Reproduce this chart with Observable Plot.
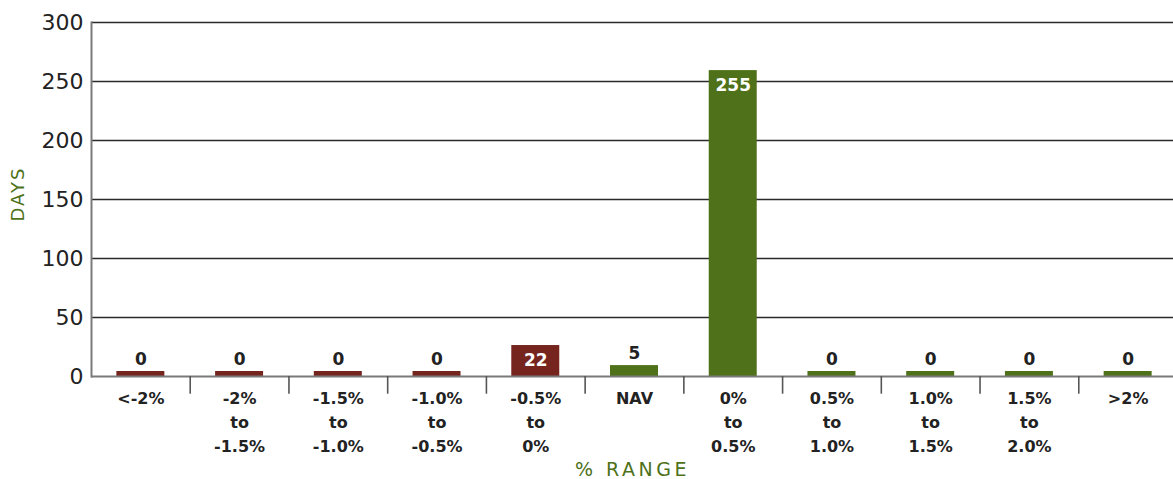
<!DOCTYPE html>
<html>
<head>
<meta charset="utf-8">
<script src="https://cdn.jsdelivr.net/npm/d3@7"></script>
<script src="https://cdn.jsdelivr.net/npm/@observablehq/plot@0.6"></script>
<style>
  html, body { margin: 0; padding: 0; background: #fff; }
  #chart svg { display: block; }
</style>
</head>
<body>
<div id="chart"></div>
<script>
const categories = ["<-2%", "-2% to -1.5%", "-1.5% to -1.0%", "-1.0% to -0.5%", "-0.5% to 0%", "NAV", "0% to 0.5%", "0.5% to 1.0%", "1.0% to 1.5%", "1.5% to 2.0%", ">2%"];
const tickLabels = ["<-2%", "-2%\nto\n-1.5%", "-1.5%\nto\n-1.0%", "-1.0%\nto\n-0.5%", "-0.5%\nto\n0%", "NAV", "0%\nto\n0.5%", "0.5%\nto\n1.0%", "1.0%\nto\n1.5%", "1.5%\nto\n2.0%", ">2%"];
const days = [0, 0, 0, 0, 22, 5, 255, 0, 0, 0, 0];
const groups = ["below", "below", "below", "below", "below", "nav", "above", "above", "above", "above", "above"];
const yTicks = [0, 50, 100, 150, 200, 250, 300];

const data = categories.map((c, i) => ({cat: c, label: tickLabels[i], value: days[i], group: groups[i]}));

const RED = "#76241e", GREEN = "#4e7119";
const font = "'DejaVu Sans', sans-serif";
const W = 1173, H = 479;
const xRange = [91, 1177];
const step = (xRange[1] - xRange[0]) / categories.length;

const chart = Plot.plot({
  width: W,
  height: H,
  marginLeft: 91,
  marginRight: 0,
  marginTop: 22,
  marginBottom: 103,
  style: {fontFamily: font, background: "#fff", overflow: "visible"},
  x: {domain: categories, range: xRange, paddingInner: 0.514, paddingOuter: 0.257, round: false, axis: null},
  y: {domain: [0, 300], axis: null},
  color: {domain: ["below", "nav", "above"], range: [RED, GREEN, GREEN]},
  marks: [
    Plot.ruleY(yTicks.slice(1), {stroke: "#2a2a2a", strokeWidth: 1.4}),
    Plot.axisY({ticks: yTicks, tickSize: 0, tickPadding: 8, fontSize: 22, fill: "#222", label: null}),
    Plot.barY(data, {x: "cat", y: "value", fill: "group", insetTop: -5}),
    Plot.frame({anchor: "left", stroke: "#7a7a7a", strokeWidth: 2}),
    Plot.ruleY([0], {stroke: "#7a7a7a", strokeWidth: 2}),
    Plot.ruleX(categories.slice(1), {x: d => d, y1: 0, y2: -15, dx: -step / 2, stroke: "#555", strokeWidth: 1.6}),
    Plot.text(data, {x: "cat", y: 0, text: "label", lineAnchor: "top", dy: 10, lineHeight: 1.5, fontSize: 16, fontWeight: "bold", fill: "#222"}),
    Plot.text(data.filter(d => d.value < 10), {x: "cat", y: "value", text: d => String(d.value), dy: -17, fontSize: 17, fontWeight: "bold", fill: "#222"}),
    Plot.text(data.filter(d => d.value >= 10), {x: "cat", y: "value", text: d => String(d.value), dy: 10, fontSize: 17, fontWeight: "bold", fill: "#fff"}),
    Plot.text(["DAYS"], {frameAnchor: "left", text: d => d, rotate: -90, dx: -73, dy: 22, fontSize: 18, fill: GREEN, className: "spaced-y"}),
    Plot.text(["% RANGE"], {frameAnchor: "bottom", text: d => d, dy: 99, fontSize: 19, fill: GREEN, className: "spaced-x"})
  ]
});

document.getElementById("chart").appendChild(chart);
d3.select(chart).selectAll(".spaced-x text").style("letter-spacing", "3.5px");
d3.select(chart).selectAll(".spaced-y text").style("letter-spacing", "2px");
</script>
</body>
</html>
